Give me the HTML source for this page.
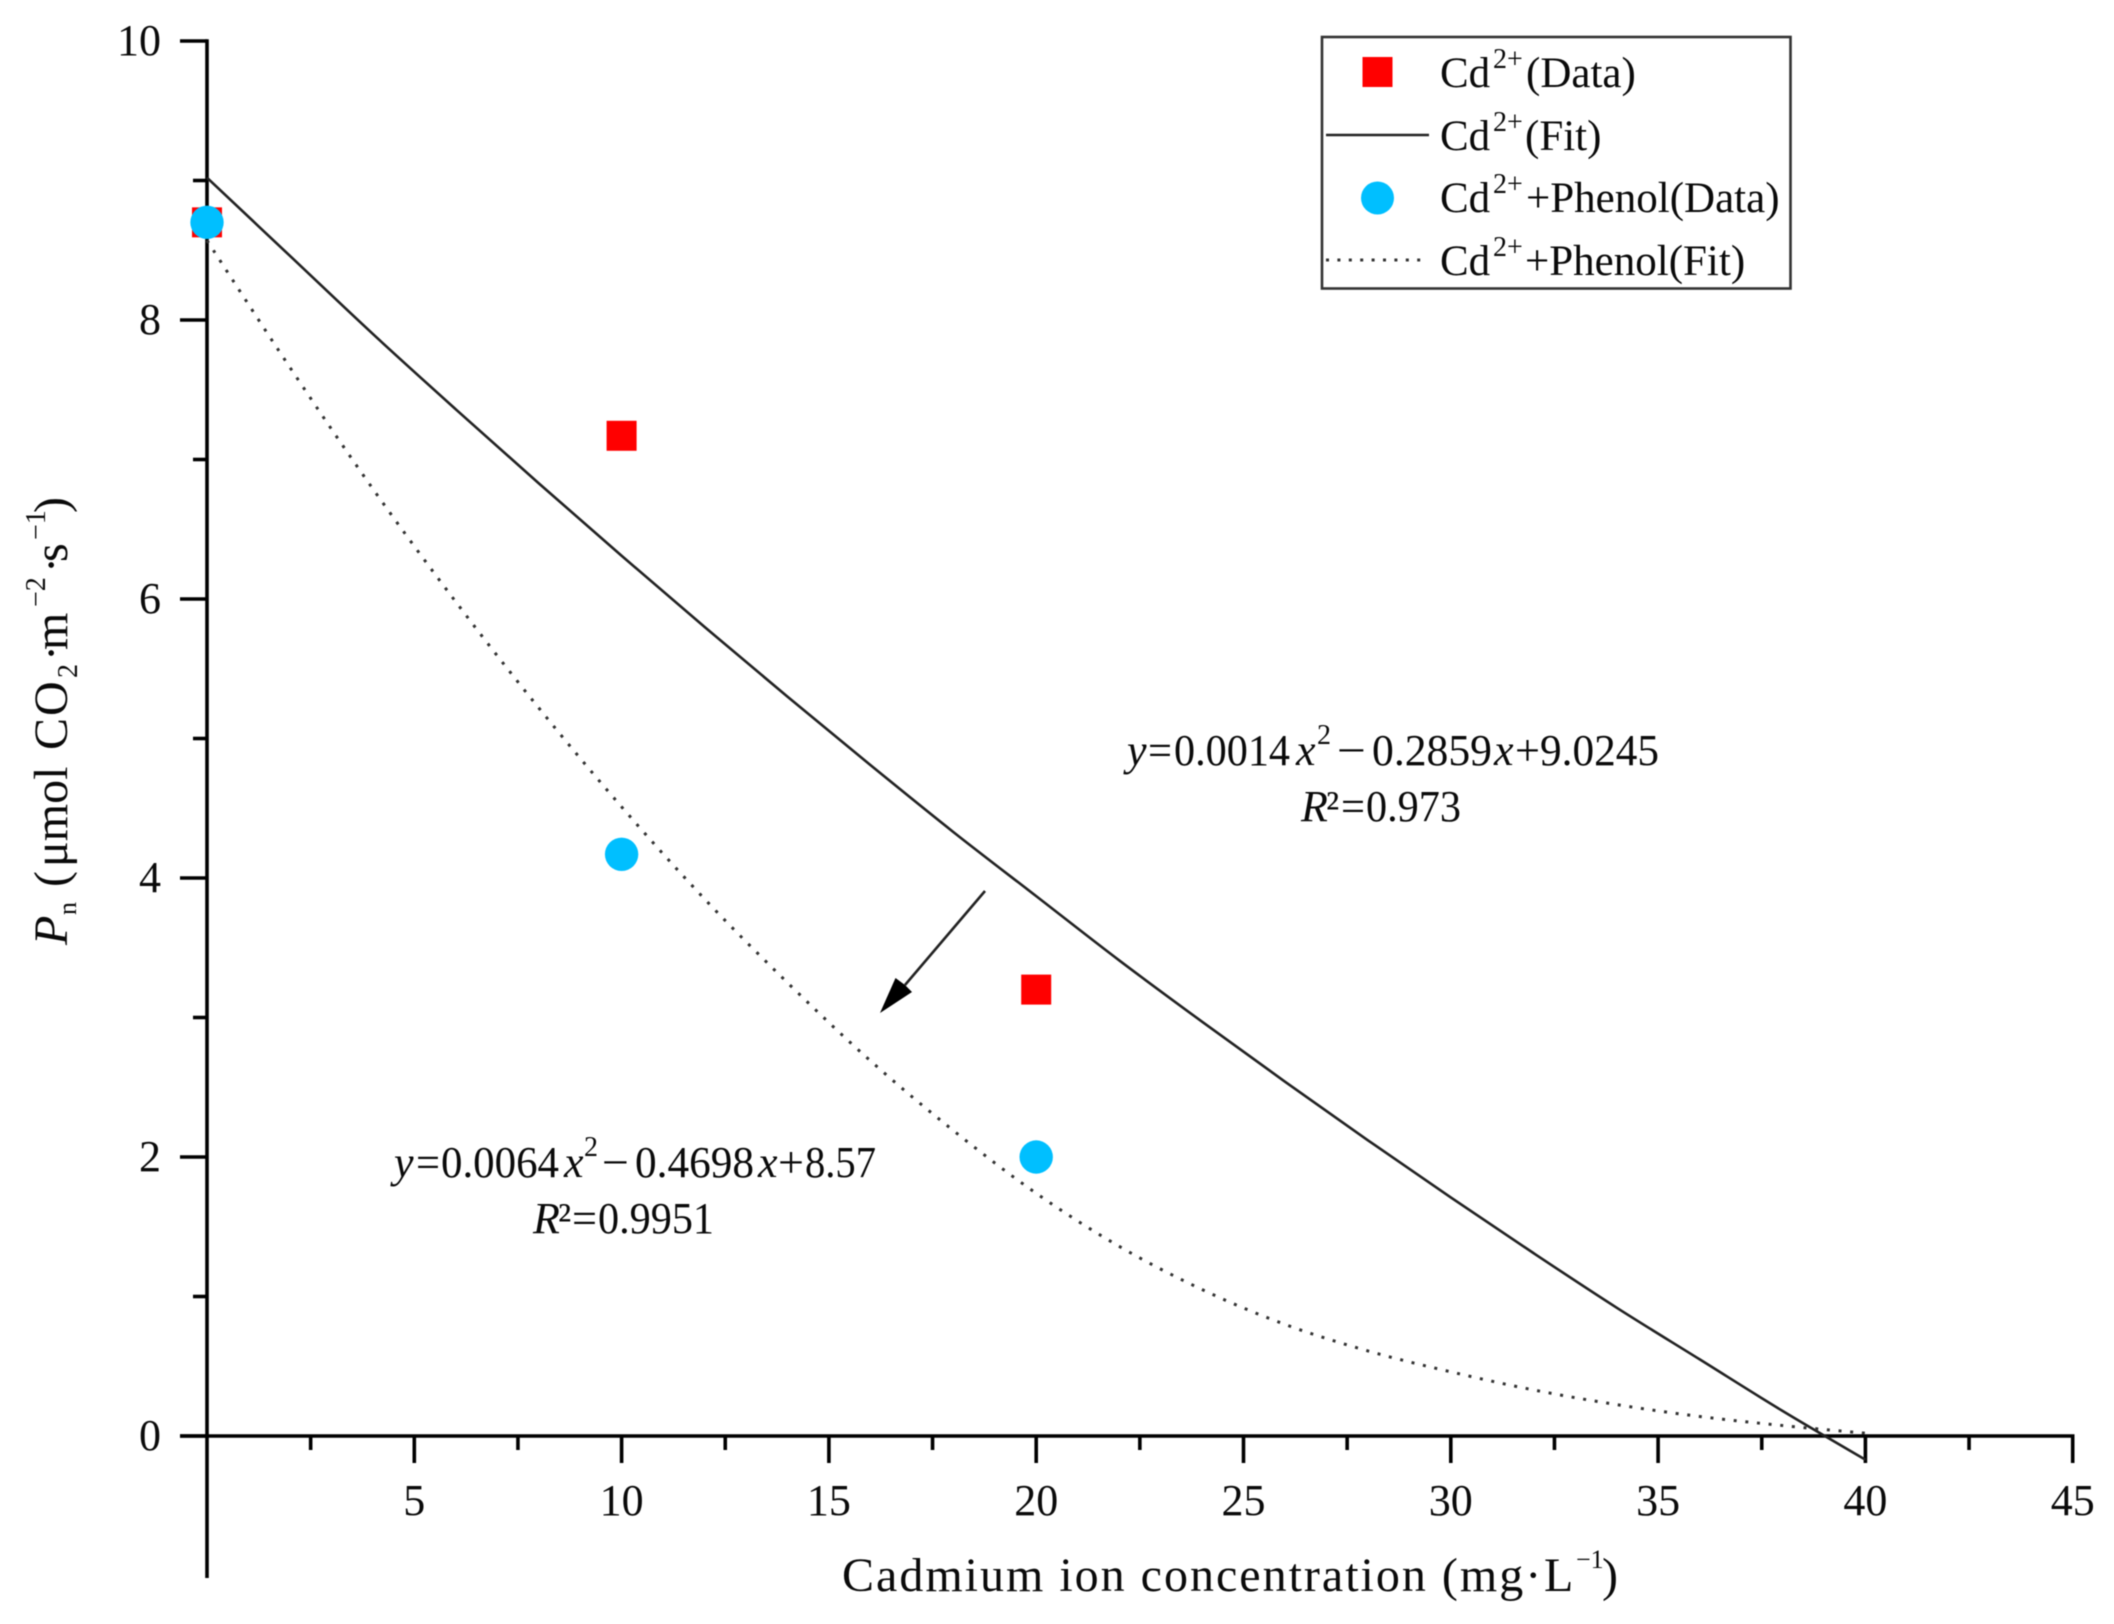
<!DOCTYPE html>
<html lang="en">
<head>
<meta charset="utf-8">
<title>Pn vs cadmium ion concentration</title>
<style>
html,body{margin:0;padding:0;background:#fff;width:2114px;height:1624px;overflow:hidden}
svg{display:block;position:absolute;left:0;top:0;filter:blur(.5px)}
text{font-family:"Liberation Serif","Times New Roman",serif;fill:#0a0a0a}
.it{font-style:italic}
</style>
</head>
<body>
<svg id="chart" xmlns="http://www.w3.org/2000/svg" width="2114" height="1624" viewBox="0 0 2114 1624">
  <g id="axes"></g>
  <g id="tick-labels" font-size="44"></g>
  <g id="series"></g>

  <g>
    <line x1="985" y1="891" x2="905" y2="985" stroke="#222" stroke-width="2.6"/>
    <polygon points="880,1013 895.5,978 905,985 912,992" fill="#000"/>
  </g>

  <g font-size="48" letter-spacing="2">
    <text x="842" y="1591">Cadmium ion concentration (mg·</text>
    <text x="1544" y="1591">L</text>
    <text x="1576" y="1568" font-size="26" letter-spacing="0">−1</text>
    <text x="1602" y="1591">)</text>
  </g>

  <g transform="translate(67,945) rotate(-90)" font-size="48">
    <text x="0" y="0" class="it">P</text>
    <text x="30" y="9" font-size="26">n</text>
    <text x="58" y="0">(</text>
    <text x="78" y="0">μmol</text>
    <text x="195" y="0" letter-spacing="2">CO</text>
    <text x="267" y="10" font-size="28">2</text>
    <text x="284" y="0">·</text>
    <text x="295" y="0" letter-spacing="2">m</text>
    <text x="338" y="-22" font-size="28">−2</text>
    <text x="372" y="0">·</text>
    <text x="383" y="0">s</text>
    <text x="405" y="-22" font-size="28">−1</text>
    <text x="432" y="0">)</text>
  </g>

  <g font-size="44">
    <text x="1127" y="765" class="it">y</text>
    <text x="1148" y="765" textLength="24" lengthAdjust="spacingAndGlyphs">=</text>
    <text x="1174" y="765" textLength="116" lengthAdjust="spacingAndGlyphs">0.0014</text>
    <text x="1296" y="765" class="it">x</text>
    <text x="1317" y="744" font-size="28">2</text>
    <text x="1337" y="765" textLength="29" lengthAdjust="spacingAndGlyphs">−</text>
    <text x="1372" y="765" textLength="120" lengthAdjust="spacingAndGlyphs">0.2859</text>
    <text x="1494" y="765" class="it">x</text>
    <text x="1515" y="765" textLength="25" lengthAdjust="spacingAndGlyphs">+</text>
    <text x="1540" y="765" textLength="119" lengthAdjust="spacingAndGlyphs">9.0245</text>
  </g>
  <g font-size="44">
    <text x="1301" y="821" class="it">R</text>
    <text x="1326" y="821">²</text>
    <text x="1341" y="821" textLength="24" lengthAdjust="spacingAndGlyphs">=</text>
    <text x="1366" y="821" textLength="95" lengthAdjust="spacingAndGlyphs">0.973</text>
  </g>

  <g font-size="44" transform="translate(2,0)">
    <text x="392" y="1177" class="it">y</text>
    <text x="414" y="1177" textLength="24" lengthAdjust="spacingAndGlyphs">=</text>
    <text x="439" y="1177" textLength="118" lengthAdjust="spacingAndGlyphs">0.0064</text>
    <text x="562" y="1177" class="it">x</text>
    <text x="582" y="1156" font-size="28">2</text>
    <text x="600" y="1177" textLength="27" lengthAdjust="spacingAndGlyphs">−</text>
    <text x="633" y="1177" textLength="119" lengthAdjust="spacingAndGlyphs">0.4698</text>
    <text x="756" y="1177" class="it">x</text>
    <text x="776" y="1177" textLength="26" lengthAdjust="spacingAndGlyphs">+</text>
    <text x="803" y="1177" textLength="71" lengthAdjust="spacingAndGlyphs">8.57</text>
  </g>
  <g font-size="44">
    <text x="533" y="1233" class="it">R</text>
    <text x="558" y="1233">²</text>
    <text x="572" y="1233" textLength="25" lengthAdjust="spacingAndGlyphs">=</text>
    <text x="598" y="1233" textLength="116" lengthAdjust="spacingAndGlyphs">0.9951</text>
  </g>

  <g font-size="43">
    <rect x="1322" y="37" width="468.5" height="251.5" fill="#fff" stroke="#333" stroke-width="2.6"/>
    <g>
      <rect x="1362.5" y="57" width="30" height="30" fill="#ff0000"/>
      <text x="1440" y="87">Cd</text><text x="1493" y="68" font-size="28">2+</text><text x="1526" y="87">(Data)</text>
    </g>
    <g>
      <line x1="1326" y1="135" x2="1429" y2="135" stroke="#222" stroke-width="2.6"/>
      <text x="1440" y="150">Cd</text><text x="1493" y="131" font-size="28">2+</text><text x="1525" y="150">(Fit)</text>
    </g>
    <g>
      <circle cx="1377.5" cy="198" r="16.5" fill="#00bfff"/>
      <text x="1440" y="212">Cd</text><text x="1493" y="193" font-size="28">2+</text><text x="1526" y="212">+Phenol(Data)</text>
    </g>
    <g>
      <line x1="1326" y1="260" x2="1424" y2="260" stroke="#333" stroke-width="3" stroke-dasharray="3 8.4"/>
      <text x="1440" y="275">Cd</text><text x="1493" y="256" font-size="28">2+</text><text x="1525" y="275">+Phenol(Fit)</text>
    </g>
  </g>
</svg>

<script>
// Chart data
const xTicksMajor = [0, 5, 10, 15, 20, 25, 30, 35, 40, 45];
const xTicksMinor = [2.5, 7.5, 12.5, 17.5, 22.5, 27.5, 32.5, 37.5, 42.5];
const xTickLabels = ["5", "10", "15", "20", "25", "30", "35", "40", "45"];
const xTickLabelValues = [5, 10, 15, 20, 25, 30, 35, 40, 45];
const yTicksMajor = [0, 2, 4, 6, 8, 10];
const yTicksMinor = [1, 3, 5, 7, 9];
const yTickLabels = ["0", "2", "4", "6", "8", "10"];

const doseLevels = [0, 10, 20];
const cdData = [8.70, 7.17, 3.20];
const cdPhenolData = [8.70, 4.17, 2.00];

const fitDoses = [0, 2, 4, 6, 8, 10, 12, 14, 16, 18, 20, 22, 24, 26, 28, 30, 32, 34, 36, 38, 40];
const cdFit = [9.02, 8.46, 7.90, 7.36, 6.83, 6.31, 5.80, 5.30, 4.81, 4.33, 3.87, 3.41, 2.97, 2.54, 2.12, 1.71, 1.31, 0.92, 0.55, 0.18, -0.17];
const cdPhenolFit = [8.57, 7.66, 6.79, 5.98, 5.22, 4.51, 3.85, 3.25, 2.69, 2.19, 1.74, 1.36, 1.05, 0.80, 0.61, 0.46, 0.33, 0.225, 0.14, 0.075, 0.02];

// Axis functions
const X0 = 207, XUNIT = 41.46;
const Y0 = 1436, YUNIT = 139.5;
function sx(v) { return X0 + v * XUNIT; }
function sy(v) { return Y0 - v * YUNIT; }

const NS = 'http://www.w3.org/2000/svg';
function make(tag, attrs, parent) {
  const node = document.createElementNS(NS, tag);
  for (const k in attrs) node.setAttribute(k, attrs[k]);
  parent.appendChild(node);
  return node;
}
const axes = document.getElementById('axes');
const labels = document.getElementById('tick-labels');
const series = document.getElementById('series');
const AXIS = { stroke: '#000', 'stroke-width': 3.6 };

// Axis lines
const xAxisLine = make('line', { x1: 180, y1: sy(0), x2: sx(45) + 1.8, y2: sy(0), ...AXIS }, axes);


const yAxisLine = make('line', { x1: sx(0), y1: sy(10) - 1.8, x2: sx(0), y2: 1578, ...AXIS }, axes);



// Ticks
xTicksMajor.forEach(function (v) {
  if (v === 0) return;
  const t = make('line', { x1: sx(v), y1: sy(0), x2: sx(v), y2: sy(0) + 27, ...AXIS }, axes);
  
  
});
xTicksMinor.forEach(function (v) {
  const t = make('line', { x1: sx(v), y1: sy(0), x2: sx(v), y2: sy(0) + 14, ...AXIS }, axes);
  
  
});
yTicksMajor.forEach(function (v) {
  const t = make('line', { x1: sx(0), y1: sy(v), x2: sx(0) - 27, y2: sy(v), ...AXIS }, axes);
  
  
});
yTicksMinor.forEach(function (v) {
  const t = make('line', { x1: sx(0), y1: sy(v), x2: sx(0) - 14, y2: sy(v), ...AXIS }, axes);
  
  
});

// Tick labels
xTickLabelValues.forEach(function (v, i) {
  const t = make('text', { x: sx(v), y: 1515, 'text-anchor': 'middle' }, labels);
  t.textContent = xTickLabels[i];
  
  
});
yTicksMajor.forEach(function (v, i) {
  const t = make('text', { x: 161, y: sy(v) + 14, 'text-anchor': 'end' }, labels);
  t.textContent = yTickLabels[i];
  
  
});

// Fit lines: smooth curve through the read values
function curvePath(values) {
  const p = values.map(function (v, i) { return [sx(fitDoses[i]), sy(v)]; });
  let d = 'M' + p[0][0].toFixed(2) + ' ' + p[0][1].toFixed(2);
  for (let i = 0; i < p.length - 1; i++) {
    const a = p[Math.max(i - 1, 0)], b = p[i], c = p[i + 1], e = p[Math.min(i + 2, p.length - 1)];
    d += ' C' + (b[0] + (c[0] - a[0]) / 6).toFixed(2) + ' ' + (b[1] + (c[1] - a[1]) / 6).toFixed(2) +
         ' ' + (c[0] - (e[0] - b[0]) / 6).toFixed(2) + ' ' + (c[1] - (e[1] - b[1]) / 6).toFixed(2) +
         ' ' + c[0].toFixed(2) + ' ' + c[1].toFixed(2);
  }
  return d;
}
const cdFitLine = make('path', { d: curvePath(cdFit), fill: 'none', stroke: '#222', 'stroke-width': 2.6, 'stroke-linejoin': 'round' }, series);


const phenolFitLine = make('path', { d: curvePath(cdPhenolFit), fill: 'none', stroke: '#333', 'stroke-width': 3, 'stroke-dasharray': '3 8.7' }, series);



// Data markers
doseLevels.forEach(function (d, i) {
  const s = make('rect', { x: sx(d) - 15, y: sy(cdData[i]) - 15, width: 30, height: 30, fill: '#ff0000' }, series);
  
  
});
doseLevels.forEach(function (d, i) {
  const c = make('circle', { cx: sx(d), cy: sy(cdPhenolData[i]), r: 16.7, fill: '#00bfff' }, series);
  
  
});
</script>
</body>
</html>
